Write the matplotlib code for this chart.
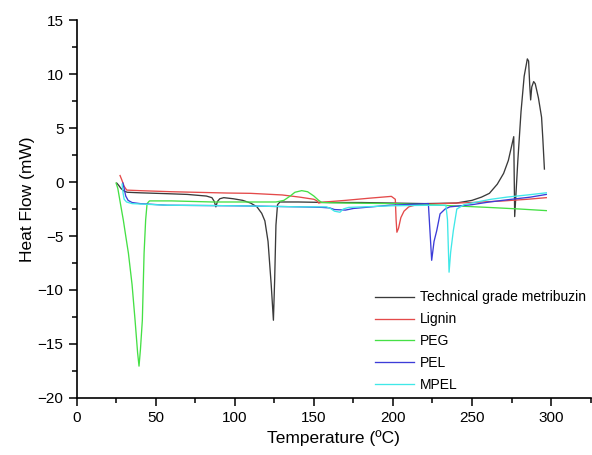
import matplotlib
matplotlib.use('Agg')
import matplotlib.pyplot as plt
from matplotlib.ticker import MultipleLocator

plt.rcParams['font.family'] = ['Liberation Sans', 'DejaVu Sans']

# DSC curves: temperature (C) and heat flow (mW)
metribuzin_t = [25.3, 26.5, 28, 30, 32, 40, 57, 70, 82, 85.5, 87, 88, 89, 90.5, 93, 99, 105, 110,
				114, 117, 119, 121, 123, 124.4, 125.2, 126, 127, 128.5, 140, 160, 180, 200, 220, 240,
				250, 256, 261, 266, 270, 273, 276.4, 277, 279, 281, 283, 285, 285.8, 286.5, 287.1,
				287.8, 289, 290, 292, 294, 294.8, 295.8]
metribuzin_hf = [-0.1, -0.3, -0.6, -0.85, -0.95, -1.0, -1.08, -1.15, -1.3, -1.45, -1.8, -2.3, -1.8,
				 -1.55, -1.45, -1.55, -1.7, -1.95, -2.3, -2.9, -3.6, -5.5, -9.5, -12.8, -9.0, -4.0,
				 -2.1, -1.85, -1.85, -1.9, -1.9, -1.95, -2.0, -1.95, -1.7, -1.4, -1.05, -0.2, 0.8,
				 2.0, 4.2, -3.2, 2.0, 6.5, 9.8, 11.4, 11.2, 9.0, 7.6, 8.8, 9.3, 9.1, 7.8, 6.0, 4.0, 1.2]

lignin_t = [27.4, 28.5, 30, 31.6, 40, 60, 95, 110, 130, 141, 150, 152, 153, 154.5, 157, 170, 185,
			199, 201.5, 202, 202.5, 203.5, 205, 207, 210, 215, 230, 250, 270, 285, 297]
lignin_hf = [0.6, 0.2, -0.4, -0.75, -0.8, -0.9, -1.02, -1.05, -1.2, -1.4, -1.6, -1.75, -1.95, -1.9,
			 -1.85, -1.7, -1.5, -1.33, -1.6, -3.5, -4.65, -4.3, -3.3, -2.7, -2.3, -2.1, -2.0, -1.9,
			 -1.75, -1.6, -1.45]

peg_t = [24.9, 26, 28, 29.5, 31, 32.7, 35, 36.9, 38.5, 39.4, 40.3, 41.5, 42.6, 43.6, 44.5, 46, 60,
		 86, 126, 131, 135, 138, 142.3, 146, 150, 153, 155, 170, 200, 230, 260, 280, 297]
peg_hf = [-0.1, -0.6, -2.3, -3.55, -5.0, -6.6, -9.5, -12.8, -15.8, -17.05, -15.5, -12.8, -6.6, -3.5,
		  -2.0, -1.75, -1.75, -1.85, -1.85, -1.7, -1.3, -0.95, -0.8, -0.9, -1.3, -1.7, -1.9, -1.95,
		  -2.0, -2.15, -2.35, -2.5, -2.65]

pel_t = [29.2, 30, 31, 32.5, 35, 40, 57, 100, 141, 155, 160, 163, 170, 175, 198, 215, 222.4, 223.2,
		 224.5, 226, 227.7, 229.8, 233, 236, 250, 261, 275, 287, 297]
pel_hf = [-0.1, -0.6, -1.3, -1.7, -1.9, -2.0, -2.15, -2.2, -2.3, -2.35, -2.4, -2.55, -2.6, -2.45,
		  -2.15, -2.05, -2.0, -4.0, -7.25, -5.5, -4.5, -2.95, -2.5, -2.3, -2.1, -1.85, -1.6, -1.4, -1.15]

mpel_t = [28.7, 29.3, 30, 31.5, 35, 57, 100, 141, 158, 160.5, 163, 166.5, 168.6, 172, 200, 225,
		  233.5, 234.5, 235.5, 236.5, 238.2, 240.4, 245, 253, 262, 272, 285, 297]
mpel_hf = [-0.2, -1.0, -1.6, -1.85, -2.0, -2.15, -2.2, -2.3, -2.3, -2.45, -2.7, -2.8, -2.5, -2.35,
		   -2.2, -2.15, -2.15, -3.5, -8.35, -6.5, -4.5, -2.5, -2.1, -1.85, -1.6, -1.4, -1.2, -1.0]

labels = ['Technical grade metribuzin', 'Lignin', 'PEG', 'PEL', 'MPEL']
colors = ['#3a3a3a', '#e44a4a', '#45e045', '#3c3cd8', '#40e8e8']


def makeDscPlot():
	fig = plt.figure(figsize=(5.92, 4.55), dpi=100)
	ax = fig.add_axes([0.1296, 0.1253, 0.868, 0.8307])

	series = [(metribuzin_t, metribuzin_hf), (lignin_t, lignin_hf), (peg_t, peg_hf),
			  (pel_t, pel_hf), (mpel_t, mpel_hf)]
	for (t, hf), label, color in zip(series, labels, colors):
		ax.plot(t, hf, color=color, linewidth=0.95, label=label)

	ax.set_xlim(0, 325)
	ax.set_ylim(-20, 15)
	ax.xaxis.set_major_locator(MultipleLocator(50))
	ax.xaxis.set_minor_locator(MultipleLocator(25))
	ax.yaxis.set_major_locator(MultipleLocator(5))
	ax.yaxis.set_minor_locator(MultipleLocator(2.5))
	ax.set_xticks([0, 50, 100, 150, 200, 250, 300])

	ax.spines['top'].set_visible(False)
	ax.spines['right'].set_visible(False)
	for side in ['left', 'bottom']:
		ax.spines[side].set_linewidth(1.2)
	ax.tick_params(which='major', direction='out', length=6, width=1.1, labelsize=11)
	ax.tick_params(which='minor', direction='out', length=3.5, width=1.1)

	ax.set_xlabel('Temperature (ºC)', fontsize=12.5)
	ax.set_ylabel('Heat Flow (mW)', fontsize=12.5)
	ax.xaxis.set_label_coords(0.5, -0.085)
	ax.yaxis.set_label_coords(-0.081, 0.526)

	ax.legend(loc='upper left', bbox_to_anchor=(375 / 592, 1 - 290.5 / 455), bbox_transform=fig.transFigure,
			  frameon=False, fontsize=10, handlelength=2.8, handletextpad=0.43, labelspacing=0.57,
			  borderpad=0, borderaxespad=0)

	fig.savefig('out.png', dpi=100)
	plt.close(fig)


makeDscPlot()
